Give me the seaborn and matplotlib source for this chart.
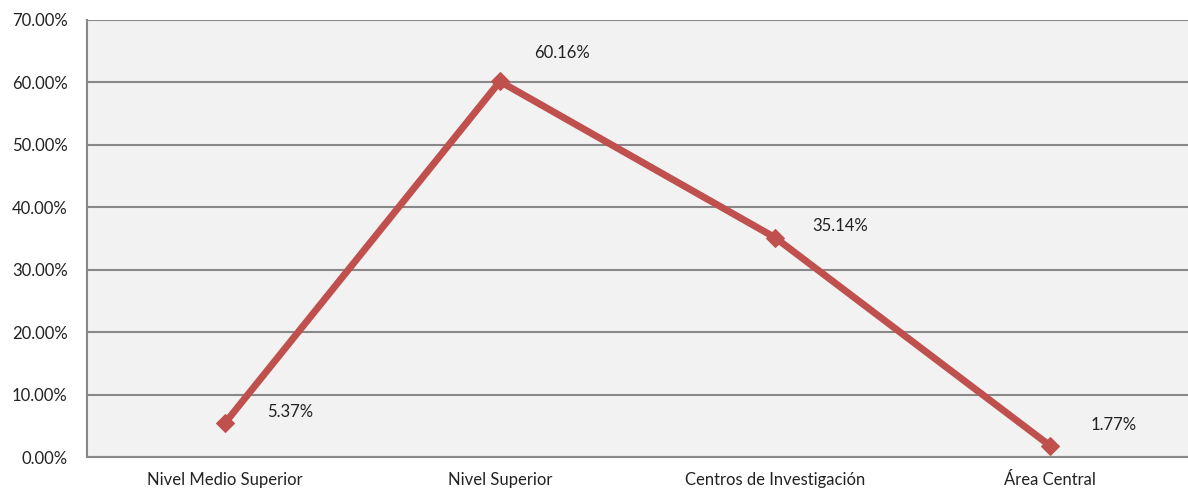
import matplotlib
matplotlib.use("Agg")
import matplotlib.pyplot as plt
import seaborn as sns
import pandas as pd

# data
categories = ["Nivel Medio Superior", "Nivel Superior", "Centros de Investigación", "Área Central"]
values = [5.37, 60.16, 35.14, 1.77]
labels = ["5.37%", "60.16%", "35.14%", "1.77%"]

df = pd.DataFrame({"cat": categories, "pct": values})

sns.set_style("white")
plt.rcParams["font.family"] = ["Lato", "DejaVu Sans"]

fig = plt.figure(figsize=(11.88, 4.90), dpi=100)
ax = fig.add_axes([87 / 1188, 1 - 457 / 490, 1 - 87 / 1188, (457 - 20) / 490])
ax.set_facecolor("#f2f2f2")

sns.lineplot(data=df, x="cat", y="pct", ax=ax, color="#c0504d", linewidth=5,
             marker="D", markersize=9, markeredgecolor="#c0504d", sort=False)

# label offsets in pixels (dx, dy)
offsets = [(66, 11), (62, 28), (65, 12), (63, 21)]
for i, (v, lab) in enumerate(zip(values, labels)):
    ax.annotate(lab, (i, v), xytext=offsets[i], textcoords="offset pixels",
                ha="center", va="center", fontsize=12, color="#222222")

ax.set_ylim(0, 70)
ax.set_yticks(range(0, 71, 10))
ax.set_yticklabels([f"{t:.2f}%" for t in range(0, 71, 10)])
ax.set_xlim(-0.5, 3.44)
ax.set_xticks([i - 0.5 for i in range(5)], minor=False)
ax.set_xticklabels([])
ax.set_xticks(range(4), minor=True)
ax.set_xticklabels(categories, minor=True)
ax.tick_params(axis="x", which="minor", length=0, pad=11, labelsize=12, labelcolor="#222222")
ax.tick_params(axis="x", which="major", length=6, color="#888888", width=1.2, direction="out")
ax.tick_params(axis="y", length=7, color="#888888", width=1.2, labelsize=12, labelcolor="#222222", pad=7)

ax.grid(axis="y", color="#888888", linewidth=1.5)
ax.set_axisbelow(True)
for s in ["top", "right"]:
    ax.spines[s].set_visible(False)
for s in ["left", "bottom"]:
    ax.spines[s].set_color("#888888")
    ax.spines[s].set_linewidth(1.5)
ax.set_xlabel("")
ax.set_ylabel("")

fig.savefig("out.png", dpi=100)
